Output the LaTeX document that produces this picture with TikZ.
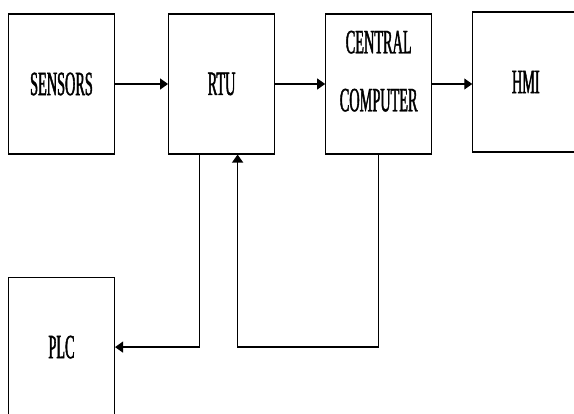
\documentclass[tikz,border=0pt]{standalone}
\usepackage{fontspec}
\usepackage{tikz}
\usetikzlibrary{arrows.meta,positioning}
\newfontfamily\boxfont[FakeStretch=0.42,FakeBold=1.2]{Liberation Serif}

\begin{document}
\begin{tikzpicture}[
      box/.style={draw=black,line width=1.1pt,minimum width=106pt,minimum height=140pt,align=center,
        font=\boxfont\fontsize{34}{58}\selectfont},
      arr/.style={-{Triangle[length=8pt,width=11pt]},line width=1.2pt,black}
    ]
    \useasboundingbox (0,0) rectangle (574pt,-414pt);
    \node[box] (sensors) at (61.5pt,-84pt) {SENSORS};
    \node[box,right=53pt of sensors] (rtu) {RTU};
    \node[box,right=50pt of rtu,text depth=26pt] (cc) {CENTRAL\\COMPUTER};
    \node[box,right=40pt of cc,yshift=2pt] (hmi) {HMI};
    \node[box,below=122pt of sensors] (plc) {PLC};
    \coordinate (rtuout) at ([xshift=-22pt]rtu.south);
    \coordinate (rtuin) at ([xshift=16pt]rtu.south);
    \draw[arr] (sensors) -- (rtu);
    \draw[arr] (rtu) -- (cc);
    \draw[arr] (cc.east) -- (cc.east -| hmi.west);
    \draw[arr] (rtuout) |- (plc.east);
    \draw[arr] (cc.south) |- (rtuin |- plc.east) -- (rtuin);
  \end{tikzpicture}
\end{document}
